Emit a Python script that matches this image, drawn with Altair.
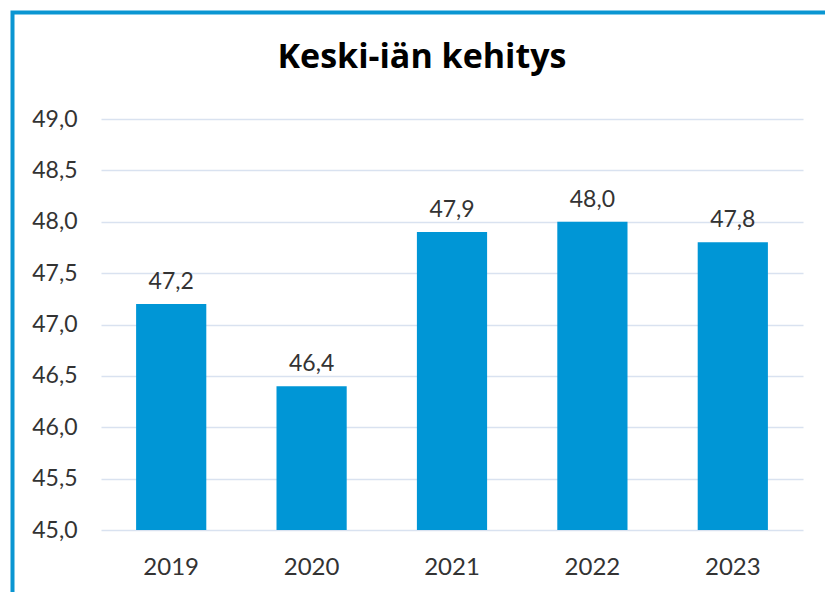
import altair as alt
import pandas as pd

years = ["2019", "2020", "2021", "2022", "2023"]
values = [47.2, 46.4, 47.9, 48.0, 47.8]
y_ticks = [45.0, 45.5, 46.0, 46.5, 47.0, 47.5, 48.0, 48.5, 49.0]
y_min, y_max = 45.0, 49.0

df = pd.DataFrame({"year": years, "value": values, "base": [y_min] * len(years)})

FONT = "Lato"
BAR = "#0096D6"
TXT = "#333333"

base = alt.Chart(df)

bars = base.mark_bar(color=BAR).encode(
    x=alt.X("year:N", sort=years, title=None,
            scale=alt.Scale(paddingInner=0.5, paddingOuter=0.25),
            axis=alt.Axis(labelAngle=0, labelFontSize=24, labelFont=FONT,
                          labelColor=TXT, labelPadding=25, ticks=False,
                          domain=False, grid=False)),
    y=alt.Y("value:Q", title=None,
            scale=alt.Scale(domain=[y_min, y_max], nice=False, zero=False),
            axis=alt.Axis(values=y_ticks, labelFontSize=23, labelFont=FONT,
                          labelColor=TXT, labelPadding=24, ticks=False,
                          domain=False, gridColor="#D9E2F0", gridWidth=1.6,
                          labelExpr="replace(format(datum.value, '.1f'), '.', ',')")),
    y2="base:Q",
)

labels = base.transform_calculate(
    lbl="replace(format(datum.value, '.1f'), '.', ',')"
).mark_text(fontSize=23, font=FONT, color=TXT, baseline="alphabetic", dy=-15).encode(
    x=alt.X("year:N", sort=years),
    y=alt.Y("value:Q"),
    text="lbl:N",
)

frame = alt.Chart(pd.DataFrame({"a": [0]})).mark_rect(
    filled=False, stroke="#0A96D2", strokeWidth=4, clip=False
).encode(
    x=alt.value(-88.5), x2=alt.value(1000),
    y=alt.value(-106.5), y2=alt.value(1000),
)

chart = alt.layer(frame, bars, labels).properties(
    width=702, height=411,
    title=alt.TitleParams("Keski-iän kehitys", fontSize=34, font="Open Sans",
                          fontWeight="bold", color="black", dx=-30, offset=-64),
    autosize=alt.AutoSizeParams(type="none"),
    padding={"left": 101, "top": 119, "right": 22, "bottom": 62},
).configure(background="white").configure_view(stroke="transparent", strokeWidth=0)

chart.save("out.html", embed_options={"renderer": "svg", "actions": False})
